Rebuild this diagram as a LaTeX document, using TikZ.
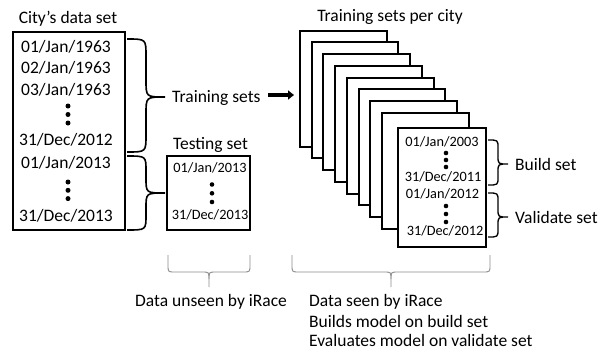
\documentclass[tikz,border=0pt]{standalone}
\usepackage{fontspec}
\setmainfont{Carlito}
\usetikzlibrary{arrows.meta}
\newcommand{\mybrace}[7]{%
 \draw[#1] (#2,#3) .. controls ({#2+#6/2},#3) .. ({#2+#6/2},{#3+#7}) -- ({#2+#6/2},{#5-#7}) .. controls ({#2+#6/2},#5) .. ({#2+#6},#5) .. controls ({#2+#6/2},#5) .. ({#2+#6/2},{#5+#7}) -- ({#2+#6/2},{#4-#7}) .. controls ({#2+#6/2},#4) .. (#2,#4);}
\newcommand{\mybbrace}[6]{%
 \draw[thinbrace] (#1,#4) -- (#1,{#5-7}) .. controls (#1,#5) .. ({#1+7},#5) -- ({#3-7},#5) .. controls (#3,#5) .. (#3,{#5+7}) -- (#3,#6);
 \draw[thinbrace] (#2,#4) -- (#2,{#5-7}) .. controls (#2,#5) .. ({#2-7},#5) -- ({#3+7},#5) .. controls (#3,#5) .. (#3,{#5+7});}
\begin{document}
\begin{tikzpicture}[x=1pt,y=-1pt,
  box/.style={draw=black,line width=2pt,fill=white,inner sep=0pt,outer sep=0pt,anchor=north west},
  big/.style={font=\fontsize{17.5}{21}\selectfont,inner sep=0pt,anchor=base},
  small/.style={font=\fontsize{14.3}{17}\selectfont,inner sep=0pt,anchor=base},
  dotc/.style={fill=black,circle,inner sep=0pt,minimum size=5pt},
  bigbrace/.style={line width=1.6pt,black},
  smallbrace/.style={line width=1.3pt,black},
  thinbrace/.style={line width=0.9pt,draw=black!45},
  arr/.style={line width=3.5pt,-{Triangle[length=6pt,width=9pt]}}]
\useasboundingbox (0,0) rectangle (608,351);
% main data box
\node[box,minimum width=112pt,minimum height=198pt] (mainbox) at (13,32) {};
\node[big] (cityl) at (68,23.6) {City’s data set};
\node[big] (m1) at (66,52.6) {01/Jan/1963};
\node[big] (m2) at (66,73.6) {02/Jan/1963};
\node[big] (m3) at (66,95.6) {03/Jan/1963};
\node[dotc] (md1) at (68,106) {};
\node[dotc] (md2) at (68,114.5) {};
\node[dotc] (md3) at (68,123) {};
\node[big] (m4) at (66,145.6) {31/Dec/2012};
\node[big] (m5) at (66,168.6) {01/Jan/2013};
\node[dotc] (md4) at (68,182) {};
\node[dotc] (md5) at (68,190.3) {};
\node[dotc] (md6) at (68,198.6) {};
\node[big] (m6) at (66,221.6) {31/Dec/2013};
% braces
\mybrace{bigbrace}{127}{39}{152}{97}{38}{17}
\mybrace{bigbrace}{127}{156}{230}{193}{38}{15}
\node[big,anchor=base west] (trainl) at (172,102.6) {Training sets};
\coordinate (arrS) at (268,95);
\coordinate (arrE) at (294,95);
\draw[arr] (arrS) -- (arrE);
% testing box
\node[big] (testl) at (210.5,149.5) {Testing set};
\node[box,minimum width=83pt,minimum height=74pt] (testbox) at (167,156) {};
\node[small] (t1) at (210,172.6) {01/Jan/2013};
\node[dotc,minimum size=4.6pt] (td1) at (212,184.5) {};
\node[dotc,minimum size=4.6pt] (td2) at (212,193.3) {};
\node[dotc,minimum size=4.6pt] (td3) at (212,202) {};
\node[small] (t2) at (210,219.6) {31/Dec/2013};
% stacked boxes
\node[big] (perl) at (390,21.6) {Training sets per city};
\foreach \k in {0,...,7}{
  \node[box,minimum width=86.7pt,minimum height=116pt] (bk\k) at ({300+11.7*\k},{30.7+11.7*\k}) {};
}
\node[box,minimum width=88pt,minimum height=119pt] (front) at (398,128) {};
\node[small] (f1) at (442,146.6) {01/Jan/2003};
\node[dotc,minimum size=4.6pt] (fd1) at (446,153) {};
\node[dotc,minimum size=4.6pt] (fd2) at (446,160) {};
\node[dotc,minimum size=4.6pt] (fd3) at (446,167) {};
\node[small] (f2) at (443,181.6) {31/Dec/2011};
\node[small] (f3) at (442.5,198.6) {01/Jan/2012};
\node[dotc,minimum size=4.6pt] (fd4) at (446,206) {};
\node[dotc,minimum size=4.6pt] (fd5) at (446,214) {};
\node[dotc,minimum size=4.6pt] (fd6) at (446,222) {};
\node[small] (f4) at (445,235.6) {31/Dec/2012};
\mybrace{smallbrace}{488}{140}{185}{164}{20}{8}
\mybrace{smallbrace}{488}{193}{237}{217}{20}{8}
\node[big,anchor=base west] (buildl) at (515,170.6) {Build set};
\node[big,anchor=base west] (vall) at (515,223) {Validate set};
% bottom braces
\mybbrace{168}{250}{209}{255}{272}{287}
\mybbrace{292}{490}{391}{255}{272}{287}
\node[big,anchor=base west] (unseen) at (135,306.6) {Data unseen by iRace};
\node[big,anchor=base west] (seen) at (309,306.6) {Data seen by iRace};
\node[big,anchor=base west] (builds) at (309,327) {Builds model on build set};
\node[big,anchor=base west] (evals) at (309,346.8) {Evaluates model on validate set};
\end{tikzpicture}
\end{document}
